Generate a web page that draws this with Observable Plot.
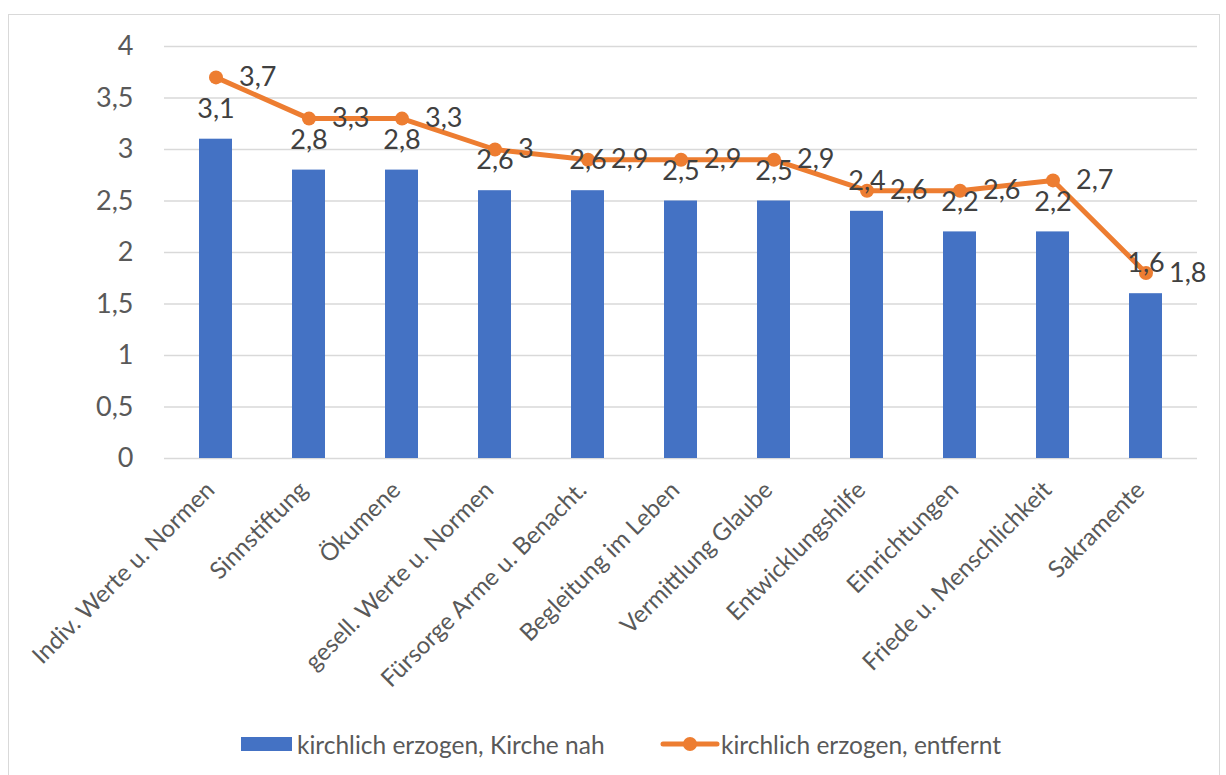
<!DOCTYPE html>
<html lang="de">
<head>
<meta charset="utf-8">
<title>Kirchliche Aufgaben</title>
<script src="https://cdn.jsdelivr.net/npm/d3@7"></script>
<script src="https://cdn.jsdelivr.net/npm/@observablehq/plot@0.6"></script>
<style>
  html, body { margin: 0; padding: 0; background: #fff; overflow: hidden; }
  #wrap { position: relative; width: 1226px; height: 775px; overflow: hidden; font-family: Lato, sans-serif; }
  #frame { position: absolute; left: 8px; top: 14px; width: 1212px; height: 820px; border: 1.5px solid #d9d9d9; box-sizing: border-box; }
  #chart { position: absolute; left: 0; top: 0; }
  #legend { position: absolute; left: 0; top: 712px; width: 1226px; height: 63px; }
  .item { position: absolute; top: 17px; display: flex; align-items: center; font-size: 24.5px; color: #595959; height: 30px; }
  .swatch-bar { width: 51px; height: 14px; background: #4472C4; margin-right: 5px; }
</style>
</head>
<body>
<div id="wrap">
  <div id="frame"></div>
  <div id="chart"></div>
  <div id="legend">
    <div class="item" style="left:241px"><span class="swatch-bar"></span><span>kirchlich erzogen, Kirche nah</span></div>
    <div class="item" style="left:660px">
      <svg width="60" height="16" style="margin-right:1px">
        <line x1="3" y1="8" x2="57" y2="8" stroke="#ED7D31" stroke-width="5" stroke-linecap="round"></line>
        <circle cx="30" cy="8" r="7" fill="#ED7D31"></circle>
      </svg>
      <span>kirchlich erzogen, entfernt</span>
    </div>
  </div>
</div>
<script>
// Kategorien (Aufgaben der Kirche)
const categories = [
  "Indiv. Werte u. Normen",
  "Sinnstiftung",
  "Ökumene",
  "gesell. Werte u. Normen",
  "Fürsorge Arme u. Benacht.",
  "Begleitung im Leben",
  "Vermittlung Glaube",
  "Entwicklungshilfe",
  "Einrichtungen",
  "Friede u. Menschlichkeit",
  "Sakramente"
];

// kirchlich erzogen, Kirche nah (Balken)
const kircheNah = [3.1, 2.8, 2.8, 2.6, 2.6, 2.5, 2.5, 2.4, 2.2, 2.2, 1.6];

// kirchlich erzogen, entfernt (Linie)
const kircheEntfernt = [3.7, 3.3, 3.3, 3, 2.9, 2.9, 2.9, 2.6, 2.6, 2.7, 1.8];

// Achsenbeschriftung
const yTicks = [0, 0.5, 1, 1.5, 2, 2.5, 3, 3.5, 4];

const fmt = v => String(v).replace(".", ",");

const rows = categories.map((c, i) => ({c, nah: kircheNah[i], entfernt: kircheEntfernt[i]}));

const chart = Plot.plot({
  width: 1226,
  height: 712,
  marginLeft: 164,
  marginRight: 29,
  marginTop: 46,
  marginBottom: 254,
  style: {fontFamily: "Lato, sans-serif", background: "transparent", overflow: "visible"},
  x: {domain: categories, paddingInner: 0.65, paddingOuter: 0.325, axis: null},
  y: {domain: [0, 4], label: null},
  marks: [
    Plot.gridY(yTicks, {stroke: "#d9d9d9", strokeOpacity: 1, strokeWidth: 1.5}),
    Plot.axisY(yTicks, {tickSize: 0, tickPadding: 31, tickFormat: fmt, fontSize: 27, fill: "#595959", label: null}),
    Plot.barY(rows, {x: "c", y: "nah", fill: "#4472C4"}),
    Plot.line(rows, {x: "c", y: "entfernt", stroke: "#ED7D31", strokeWidth: 5, strokeLinejoin: "round", strokeLinecap: "round"}),
    Plot.dot(rows, {x: "c", y: "entfernt", r: 7, fill: "#ED7D31", stroke: "none"}),
    Plot.text(rows, {x: "c", y: "nah", text: d => fmt(d.nah), dy: -30, fontSize: 27, fill: "#404040"}),
    Plot.text(rows, {x: "c", y: "entfernt", text: d => fmt(d.entfernt), dx: 23, textAnchor: "start", fontSize: 27, fill: "#404040"}),
    Plot.text(categories, {x: d => d, text: d => d, frameAnchor: "bottom", rotate: -45, textAnchor: "end", dy: 33, fontSize: 24, fill: "#595959"})
  ]
});

document.getElementById("chart").appendChild(chart);
</script>
</body>
</html>
